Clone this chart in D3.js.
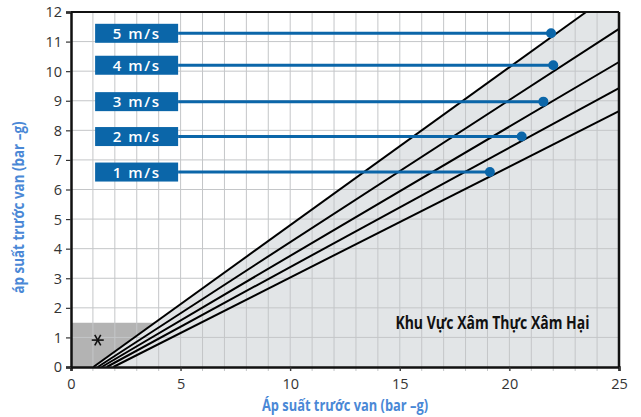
<!DOCTYPE html>
<html><head><meta charset="utf-8">
<script src="https://cdn.jsdelivr.net/npm/d3@7/dist/d3.min.js"></script>
<style>body{margin:0;background:#fff}svg{display:block}</style>
</head><body>
<script>
// ---- data ----
const speeds = ["1 m/s", "2 m/s", "3 m/s", "4 m/s", "5 m/s"];
const lineStartX = [1.93, 1.63, 1.40, 1.22, 1.02];
const lineEndX = [25, 25, 25, 25, 23.5];
const lineEndY = [8.65, 9.43, 10.31, 11.43, 12];
const markerX = [19.11, 20.56, 21.55, 22.0, 21.9];
const markerY = [6.59, 7.79, 8.97, 10.2, 11.28];
const xTicks = [0, 5, 10, 15, 20, 25];
const yTicks = [0,1,2,3,4,5,6,7,8,9,10,11,12];
const darkZoneTop = 1.5;
const starPoint = [1.22, 0.91];
const labelStartX = 1.1;
const zoneLabel = "Khu Vực Xâm Thực Xâm Hại";
const xTitle = "Áp suất trước van (bar –g)";
const yTitle = "áp suất trước van (bar –g)";

const W = 641, H = 417;
const m = {l:71, r:22, t:12, b:50};
const svg = d3.select("body").append("svg").attr("width", W).attr("height", H);
const x = d3.scaleLinear().domain([0,25]).range([m.l, W-m.r]);
const y = d3.scaleLinear().domain([0,12]).range([H-m.b, m.t]);

const blue = "#0b66a9";
const titleBlue = "#4a88d6";

// light cavitation zone (below steepest line)
const k = speeds.length - 1;
svg.append("path")
  .attr("d", d3.line()([[x(lineStartX[k]), y(0)], [x(lineEndX[k]), y(lineEndY[k])], [x(25), y(12)], [x(25), y(0)]]))
  .attr("fill", "#e2e5e7");

// dark zone
const slope = lineEndY[k] / (lineEndX[k] - lineStartX[k]);
const xAtTop = lineStartX[k] + darkZoneTop / slope;
svg.append("path")
  .attr("d", d3.line()([[x(0), y(0)], [x(0), y(darkZoneTop)], [x(xAtTop), y(darkZoneTop)], [x(lineStartX[k]), y(0)]]))
  .attr("fill", "#b3b3b3");

// grid
const g = svg.append("g");
g.selectAll(".vg").data(d3.range(1,25)).join("line")
  .attr("x1", d=>x(d)).attr("x2", d=>x(d)).attr("y1", y(0)+4).attr("y2", y(12))
  .attr("stroke", "#c4c6c8").attr("stroke-width", 1);
g.selectAll(".hg").data(d3.range(1,12)).join("line")
  .attr("y1", d=>y(d)).attr("y2", d=>y(d)).attr("x1", x(0)).attr("x2", x(25))
  .attr("stroke", "#c4c6c8").attr("stroke-width", 1);

// cavitation lines
svg.selectAll(".cl").data(speeds).join("line")
  .attr("x1", (d,i)=>x(lineStartX[i])).attr("y1", y(0))
  .attr("x2", (d,i)=>x(lineEndX[i])).attr("y2", (d,i)=>y(lineEndY[i]))
  .attr("stroke", "#000").attr("stroke-width", 2);

// star marker
const sx = x(starPoint[0]), sy = y(starPoint[1]), sr = 6;
[0, 60, 120].forEach(a => {
  const r = a*Math.PI/180;
  svg.append("line")
    .attr("x1", sx - sr*Math.cos(r)).attr("y1", sy - sr*Math.sin(r))
    .attr("x2", sx + sr*Math.cos(r)).attr("y2", sy + sr*Math.sin(r))
    .attr("stroke", "#111").attr("stroke-width", 1.6);
});

// zone label
svg.append("text").attr("x", x(14.8)).attr("y", y(1.3))
  .attr("font-family", "Open Sans").attr("font-weight", 700).attr("font-size", 17)
  .attr("textLength", 194).attr("lengthAdjust", "spacingAndGlyphs")
  .attr("fill", "#111").text(zoneLabel);

// axes frame
svg.append("line").attr("x1", x(0)).attr("x2", x(25)).attr("y1", y(12)).attr("y2", y(12)).attr("stroke", "#111").attr("stroke-width", 2);
svg.append("line").attr("x1", x(25)).attr("x2", x(25)).attr("y1", y(0)).attr("y2", y(12)).attr("stroke", "#111").attr("stroke-width", 2.5);

const xAxis = svg.append("g").attr("transform", `translate(0,${y(0)})`)
  .call(d3.axisBottom(x).tickValues(xTicks).tickSize(4).tickFormat(d3.format("d")));
const yAxis = svg.append("g").attr("transform", `translate(${x(0)},0)`)
  .call(d3.axisLeft(y).tickValues(yTicks).tickSize(5).tickFormat(d3.format("d")));
[xAxis, yAxis].forEach(a => {
  a.select(".domain").attr("stroke", "#111").attr("stroke-width", 2.5);
  a.selectAll(".tick line").attr("stroke", "#333").attr("stroke-width", 1.2);
  a.selectAll("text").attr("font-family", "Open Sans").attr("font-size", 14.5).attr("fill", "#333");
});
xAxis.selectAll("text").attr("dy", "1.05em");
yAxis.selectAll("text").attr("x", -9).attr("dy", "0.34em");

// marker lines, dots, label boxes
const lw = 83, lh = 19;
const grp = svg.selectAll(".lab").data(speeds).join("g");
grp.append("line")
  .attr("x1", x(labelStartX) + lw).attr("x2", (d,i)=>x(markerX[i]))
  .attr("y1", (d,i)=>y(markerY[i])).attr("y2", (d,i)=>y(markerY[i]))
  .attr("stroke", blue).attr("stroke-width", 3);
grp.append("circle")
  .attr("cx", (d,i)=>x(markerX[i])).attr("cy", (d,i)=>y(markerY[i])).attr("r", 5)
  .attr("fill", blue);
grp.append("rect")
  .attr("x", x(labelStartX)).attr("y", (d,i)=>y(markerY[i]) - lh/2)
  .attr("width", lw).attr("height", lh).attr("fill", blue);
grp.append("text")
  .attr("x", x(labelStartX) + lw/2).attr("y", (d,i)=>y(markerY[i]))
  .attr("dy", "0.37em").attr("text-anchor", "middle")
  .attr("font-family", "Open Sans").attr("font-weight", 600).attr("font-size", 15)
  .attr("letter-spacing", 1.6).attr("fill", "#fff").text(d=>d);

// axis titles
svg.append("text").attr("x", (x(0)+x(25))/2).attr("y", 411).attr("text-anchor", "middle")
  .attr("font-family", "Open Sans").attr("font-weight", 700).attr("font-size", 16)
  .attr("textLength", 166).attr("lengthAdjust", "spacingAndGlyphs")
  .attr("fill", titleBlue).text(xTitle);
svg.append("text").attr("transform", `translate(24,${(y(0)+y(12))/2 + 18}) rotate(-90)`)
  .attr("text-anchor", "middle")
  .attr("font-family", "Open Sans").attr("font-weight", 700).attr("font-size", 16)
  .attr("textLength", 172).attr("lengthAdjust", "spacingAndGlyphs")
  .attr("fill", titleBlue).text(yTitle);
</script>
</body></html>
